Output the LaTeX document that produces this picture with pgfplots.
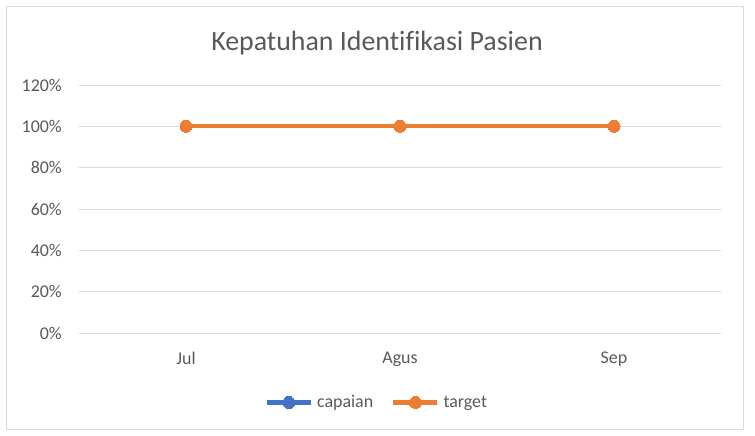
\documentclass[border=0pt]{standalone}
\usepackage{pgfplots}
\pgfplotsset{compat=1.18}
\usepackage{fontspec}
\setmainfont[Ligatures=NoCommon]{Carlito}
\definecolor{txtgray}{HTML}{595959}
\definecolor{gridgray}{HTML}{D9D9D9}
\definecolor{bordergray}{HTML}{D9D9D9}
\definecolor{xlblue}{HTML}{4472C4}
\definecolor{xlorange}{HTML}{ED7D31}
\begin{document}
\begin{tikzpicture}
\path[use as bounding box] (0bp,0bp) rectangle (755bp,-436bp);
\draw[bordergray, line width=1bp] (6bp,-6bp) rectangle (743bp,-429bp);
\node[text=txtgray, font=\fontsize{28}{32}\selectfont, anchor=center] at (377bp,-43bp) {Kepatuhan Identifikasi Pasien};
\begin{axis}[
  at={(79bp,-333bp)}, anchor=south west,
  scale only axis, width=642bp, height=248bp,
  xmin=-0.5, xmax=2.5, ymin=0, ymax=120,
  ytick={0,20,...,120}, xtick={0,1,2}, xticklabels={Jul,Agus,Sep},
  yticklabel={\pgfmathprintnumber{\tick}\%},
  /pgf/number format/assume math mode=true,
  ymajorgrids, grid style={gridgray, line width=1bp},
  axis line style={draw=none}, major tick length=0pt,
  tick label style={text=txtgray, font=\fontsize{18}{20}\selectfont, inner sep=0pt},
  yticklabel style={anchor=east, xshift=-17bp},
  xticklabel style={anchor=north, yshift=-19bp},
  legend columns=2,
  legend style={draw=none, fill=none, at={(0.464,-0.28)}, anchor=center,
    font=\fontsize{18}{20}\selectfont, text=txtgray,
    /tikz/every even column/.append style={column sep=16bp},
    /tikz/every odd column/.append style={column sep=2bp}},
  legend image code/.code={\draw[mark repeat=2,mark phase=2] plot coordinates {(0bp,0bp)(22bp,0bp)(44bp,0bp)};},
]
\addplot[color=xlblue, line width=4.3bp, mark=*, mark size=6bp, mark options={solid, fill=xlblue, line width=0pt}] coordinates {(0,100)(1,100)(2,100)};
\addlegendentry{capaian}
\addplot[color=xlorange, line width=4.3bp, mark=*, mark size=6bp, mark options={solid, fill=xlorange, line width=0pt}] coordinates {(0,100)(1,100)(2,100)};
\addlegendentry{target}
\end{axis}
\end{tikzpicture}
\end{document}
